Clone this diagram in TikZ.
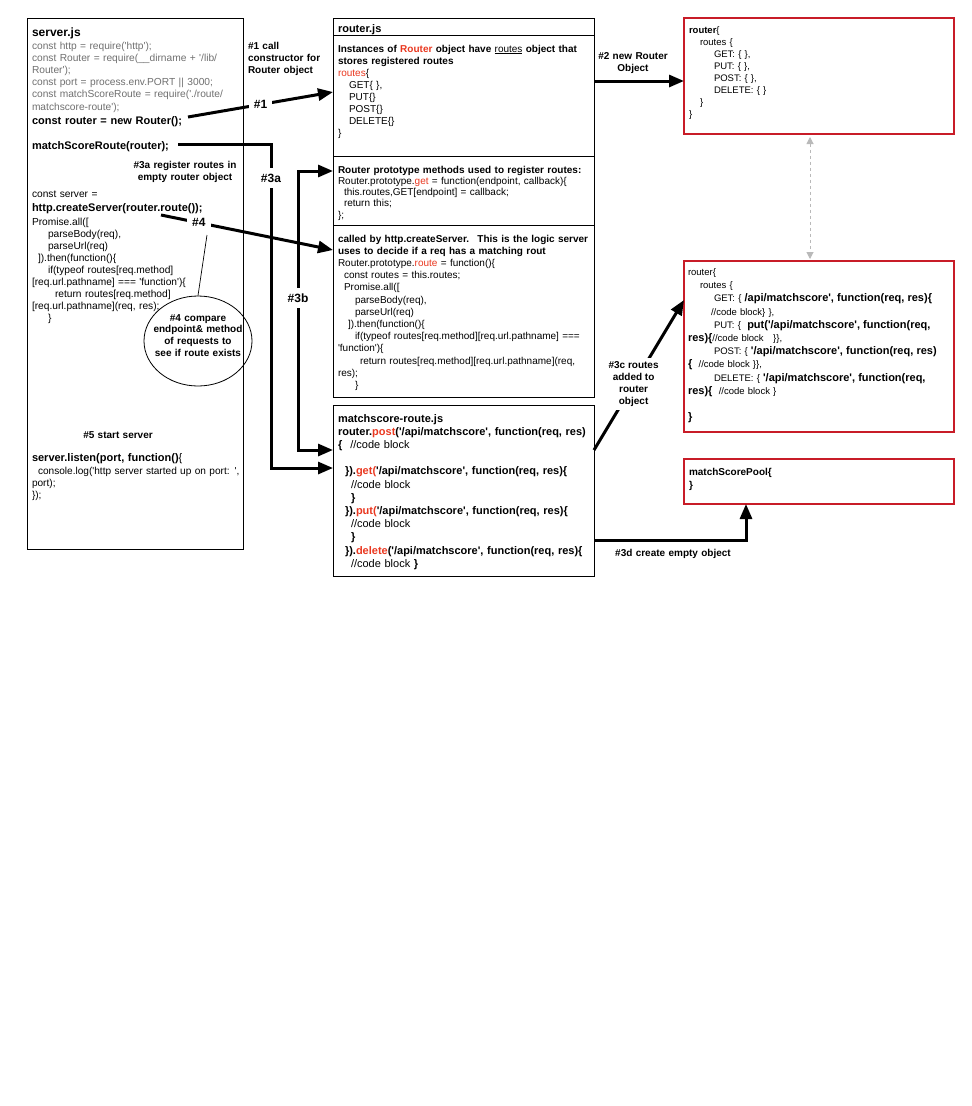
\documentclass[tikz,border=0pt]{standalone}
\usepackage{fontspec}
\setmainfont{Liberation Sans}
\newfontfamily\cf{Liberation Sans}
\usetikzlibrary{arrows.meta,shapes.geometric}

\definecolor{codegray}{RGB}{112,112,112}
\definecolor{kwred}{RGB}{234,56,32}
\definecolor{boxred}{RGB}{200,28,40}
\definecolor{linkgray}{RGB}{185,185,185}

\newcommand\setfs[2]{\fontsize{#1}{#2}\selectfont}
\newcommand\apib[1]{{\setfs{11}{13.2}\bfseries #1}}
\newcommand\kw[1]{\textcolor{kwred}{#1}}

\tikzset{
  filebox/.style={draw=black, line width=0.8pt, anchor=north west, inner sep=0pt, outer sep=0pt},
  objbox/.style={draw=boxred, line width=2pt, anchor=north west, inner sep=0pt, outer sep=0pt},
  txt/.style={anchor=base west, inner sep=0pt, outer sep=0pt, align=left, text width=290pt},
  ctr/.style={anchor=base, inner sep=0pt, outer sep=0pt, align=center},
  note/.style={font={\cf\setfs{10}{12}\bfseries}},
  flow/.style={line width=3pt, -{Triangle[length=15pt,width=12pt]}},
  flowboth/.style={line width=3pt, {Triangle[length=15pt,width=12pt]}-{Triangle[length=15pt,width=12pt]}},
  tag/.style={fill=white, inner xsep=5pt, inner ysep=6pt, font={\cf\setfs{12}{14}\bfseries}},
  greylink/.style={draw=linkgray, line width=1pt, dash pattern=on 3pt off 3pt,
    {Triangle[length=7pt,width=7pt]}-{Triangle[length=7pt,width=7pt]}},
}

\begin{document}
\begin{tikzpicture}[x=1pt,y=-1pt]
\fill[white] (0,0) rectangle (972,1106);
\useasboundingbox (0,0) rectangle (972,1106);

% ---------- server.js ----------
\node[filebox, minimum width=216pt, minimum height=531pt] (srv) at (27,18) {};
\node[txt, font={\cf\setfs{12}{14}\bfseries}] (srvtitle) at (32,36) {server.js};
\node[txt, text=codegray, font={\cf\setfs{10.2}{12.2}}] (requires) at (32,49)
  {const http = require('http');\\const Router = require(\_\_dirname + '/lib/\\Router');\\const port = process.env.PORT || 3000;\\const matchScoreRoute = require('./route/\\matchscore-route');};
\node[txt, font={\cf\setfs{11}{13}\bfseries}] (newrouter) at (32,124) {const router = new Router();};
\node[txt, font={\cf\setfs{11}{13}\bfseries}] (msrcall) at (32,149) {matchScoreRoute(router);};
\node[ctr, note, text width=130pt] (note3a) at (185,168) {\#3a register routes in\\empty router object};
\node[txt, font={\cf\setfs{10.2}{12}}] (srvconst) at (32,197) {const server =};
\node[txt, font={\cf\setfs{11}{13}\bfseries}] (create) at (32,211) {http.createServer(router.route());};
\node[txt, font={\cf\setfs{10.2}{12}}] (promise) at (32,225)
  {Promise.all([\\\hspace*{16pt}parseBody(req),\\\hspace*{16pt}parseUrl(req)\\\hspace*{6pt}]).then(function()\{\\\hspace*{16pt}if(typeof routes[req.method]\\{}[req.url.pathname] === 'function')\{\\\hspace*{23pt}return routes[req.method]\\{}[req.url.pathname](req, res);\\\hspace*{16pt}\}};
\node[ctr, note, text width=120pt] (note5) at (118,438) {\#5 start server};
\node[txt, font={\cf\setfs{11}{13}\bfseries}] (listen) at (32,461) {server.listen(port, function()\mdseries\{};
\node[txt, font={\cf\setfs{10.1}{12}}] (listenbody) at (32,474)
  {\hspace*{6pt}console.log('http server started up on port: ',\\port);\\\});};

% ---------- router.js ----------
\node[filebox, minimum width=261pt, minimum height=379pt] (rtr) at (333,18) {};
\draw[line width=0.8pt] ([yshift=-17pt]rtr.north west) -- ([yshift=-17pt]rtr.north east);
\draw[line width=0.8pt] ([yshift=-138pt]rtr.north west) -- ([yshift=-138pt]rtr.north east);
\draw[line width=0.8pt] ([yshift=-207pt]rtr.north west) -- ([yshift=-207pt]rtr.north east);
\node[txt, font={\cf\setfs{11}{13}\bfseries}] (rtrtitle) at (338,32.5) {router.js};
\node[txt, font={\cf\setfs{10}{12}}] (sec1) at (338,52)
  {\textbf{Instances of \kw{Router} object have} \underline{routes} \textbf{object that}\\\textbf{stores registered routes}\\\kw{routes}\{\\\hspace*{11pt}GET\{ \},\\\hspace*{11pt}PUT\{\}\\\hspace*{11pt}POST\{\}\\\hspace*{11pt}DELETE\{\}\\\}};
\node[txt, font={\cf\setfs{10}{11.3}}] (sec2) at (338,173)
  {\textbf{Router prototype methods used to register routes:}\\Router.prototype.\kw{get} = function(endpoint, callback)\{\\\hspace*{6pt}this.routes,GET[endpoint] = callback;\\\hspace*{6pt}return this;\\\};};
\node[txt, font={\cf\setfs{10}{12.2}}] (sec3) at (338,242)
  {\textbf{called by http.createServer.~ This is the logic server}\\\textbf{uses to decide if a req has a matching rout}\\Router.prototype.\kw{route} = function()\{\\\hspace*{6pt}const routes = this.routes;\\\hspace*{6pt}Promise.all([\\\hspace*{17pt}parseBody(req),\\\hspace*{17pt}parseUrl(req)\\\hspace*{10pt}]).then(function()\{\\\hspace*{17pt}if(typeof routes[req.method][req.url.pathname] ===\\'function')\{\\\hspace*{22pt}return routes[req.method][req.url.pathname](req,\\res);\\\hspace*{17pt}\}};

% ---------- matchscore-route.js ----------
\node[filebox, minimum width=261pt, minimum height=171pt] (msr) at (333,405) {};
\node[txt, font={\cf\setfs{11}{13.2}}] (msrcode) at (338,422)
  {\textbf{matchscore-route.js}\\\textbf{router.\kw{post}('/api/matchscore', function(req, res)}\\\textbf{\{}\hspace{8pt}//code block\\[13.2pt]\hspace*{7pt}\textbf{\}).\kw{get(}'/api/matchscore', function(req, res)\{}\\\hspace*{13pt}//code block\\\hspace*{13pt}\textbf{\}}\\\hspace*{7pt}\textbf{\}).\kw{put(}'/api/matchscore', function(req, res)\{}\\\hspace*{13pt}//code block\\\hspace*{13pt}\textbf{\}}\\\hspace*{7pt}\textbf{\}).\kw{delete}('/api/matchscore', function(req, res)\{}\\\hspace*{13pt}//code block \textbf{\}}};

% ---------- objects ----------
\node[objbox, minimum width=270pt, minimum height=116pt] (obj1) at (684,18) {};
\node[txt, font={\cf\setfs{9.5}{12}}] (obj1code) at (689,33.5)
  {\textbf{router}\{\\\hspace*{11pt}routes \{\\\hspace*{25pt}GET: \{ \},\\\hspace*{25pt}PUT: \{ \},\\\hspace*{25pt}POST: \{ \},\\\hspace*{25pt}DELETE: \{ \}\\\hspace*{11pt}\}\\\}};
\node[objbox, minimum width=270pt, minimum height=171pt] (obj2) at (684,261) {};
\node[txt, font={\cf\setfs{9.5}{13.2}}] (obj2code) at (688,275.5)
  {router\{\\\hspace*{12pt}routes \{\\\hspace*{26pt}GET: \{ \apib{/api/matchscore', function(req, res)\{}\\\hspace*{23pt}//code block\} \},\\\hspace*{26pt}PUT: \{~ \apib{put('/api/matchscore', function(req,}\\\apib{res)\{}//code block~~ \}\},\\\hspace*{26pt}POST: \{ \apib{'/api/matchscore', function(req, res)}\\\apib{\{}~ //code block \}\},\\\hspace*{26pt}DELETE: \{ \apib{'/api/matchscore', function(req,}\\\apib{res)\{}~ //code block \}\\[13.2pt]\apib{\}}};
\node[objbox, minimum width=270pt, minimum height=45pt] (pool) at (684,459) {};
\node[txt, font={\cf\setfs{10}{13}\bfseries}] (poolcode) at (689,475) {matchScorePool\{\\\}};

% ---------- notes ----------
\node[txt, note] (note1) at (248,49) {\#1 call\\constructor for\\Router object};
\node[ctr, note, text width=90pt] (note2) at (633,59) {\#2 new Router\\Object};
\node[ctr, note, text width=160pt] (note3d) at (673,556) {\#3d create empty object};
\node[ellipse, draw=black, line width=0.8pt, minimum width=108pt, minimum height=90pt] (callout) at (198,341) {};
\node[ctr, text width=110pt, font={\cf\setfs{10}{11.7}\bfseries}] (callouttxt) at (198,321)
  {\#4 compare\\endpoint\& method\\of requests to\\see if route exists};

% ---------- connectors ----------
\coordinate (from1) at (188,117);
\draw[flow] (from1) -- node[tag] (tag1) {\#1} ([yshift=-74pt]rtr.north west);

\coordinate (from3a) at (178,144);
\draw[flow] (from3a) -| ([xshift=-62pt,yshift=-63pt]msr.north west) -- ([yshift=-63pt]msr.north west);
\node[tag] (tag3a) at (271,178) {\#3a};

\coordinate (bend3b) at (298,171);
\draw[flowboth] ([yshift=-45pt]msr.north west) -| (bend3b) -- ([yshift=-153pt]rtr.north west);
\node[tag] (tag3b) at (298,298) {\#3b};

\coordinate (from4) at (161,215);
\draw[flow] (from4) -- node[tag, pos=0.22, inner ysep=4pt] (tag4) {\#4} ([yshift=-232pt]rtr.north west);
\coordinate (tip4) at (207,235);
\draw[line width=0.7pt] (callout.north) -- (tip4);

\draw[flow] ([yshift=-63pt]rtr.north east) -- ([yshift=-63pt]obj1.north west);
\draw[flow] ([yshift=-45pt]msr.north east) -- node[pos=0.44, fill=white, note, align=center, inner sep=3pt] (note3c)
  {\#3c routes\\added to\\router\\object} ([yshift=-39pt]obj2.north west);
\draw[flow] ([yshift=-135pt]msr.north east) -| ([xshift=62pt]pool.south west);
\draw[greylink] ([xshift=126pt,yshift=-3pt]obj1.south west) -- ([xshift=126pt,yshift=2pt]obj2.north west);
\end{tikzpicture}
\end{document}
